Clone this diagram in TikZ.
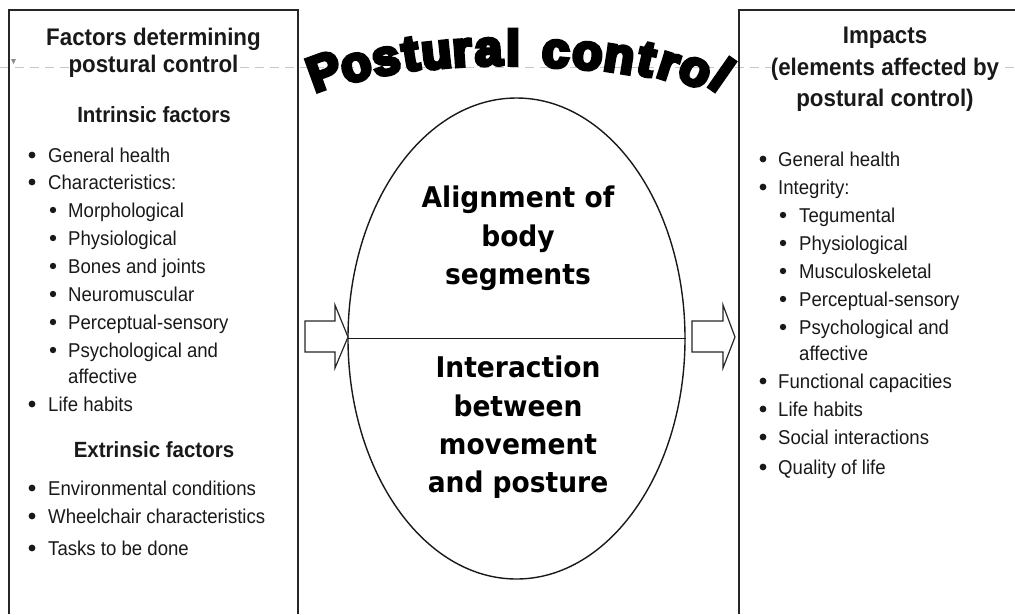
\documentclass[tikz,border=0pt]{standalone}
\usepackage{fontspec}
\setmainfont{Liberation Sans}[FakeStretch=0.93]
\newfontfamily\ellfont{DejaVu Sans}[FakeStretch=0.93]
\newfontfamily\titlefont{Liberation Sans}[UprightFont={* Bold}, FakeBold=8]
\usetikzlibrary{shapes.geometric}
\tikzset{
  frame/.style={draw=black!85, line width=1.4pt},
  head/.style={font=\bfseries\fontsize{24}{27}\selectfont, inner sep=0, anchor=base, text=black!90, fill=white},
  sub/.style={font=\bfseries\fontsize{22}{24}\selectfont, inner sep=0, anchor=base, text=black!90},
  item/.style={font=\fontsize{20}{24}\selectfont, inner sep=0, anchor=base west, text=black!90},
  ell text/.style={font=\ellfont\bfseries\fontsize{28.5}{38}\selectfont, inner sep=0, anchor=base},
  tl/.style={font=\titlefont\fontsize{49}{49}\selectfont, inner sep=0, anchor=base},
  blockarrow/.style={draw=black!85, line width=1.2pt, fill=white, line join=miter},
}
\begin{document}
\begin{tikzpicture}[x=1pt,y=-1pt]
\useasboundingbox (0,0) rectangle (1015,614);
% faint page-header guide line
\draw[black!22, line width=0.8pt, dash pattern=on 9pt off 6pt] (0,67) -- (1015,67);
\fill[black!45] (11,59) -- (16,59) -- (13.5,64) -- cycle;

% boxes (open at the bottom / right edge of the picture)
\draw[frame] (9,614) -- (9,10) -- (298,10) -- (298,614);
\draw[frame] (739,614) -- (739,10) -- (1015,10);

% ---------- left box ----------
\node[head] (lh1) at (153.5,45) {Factors determining};
\node[head] (lh2) at (153.5,72) {postural control};
\node[sub]  (lint) at (154,122) {Intrinsic factors};
\node[sub]  (lext) at (154,457) {Extrinsic factors};
\foreach \t/\y/\lv [count=\i] in {
  General health/162/1, Characteristics:/189/1, Morphological/217/2,
  Physiological/245/2, Bones and joints/273/2, Neuromuscular/301/2,
  Perceptual-sensory/329/2, Psychological and/357/2, affective/383/0,
  Life habits/411/1, Environmental conditions/495/1,
  Wheelchair characteristics/523/1, Tasks to be done/555/1}{
  \ifnum\lv=1
    \node[item] (L\i) at (48,\y) {\t};
    \fill[black!90] (32,\y-7) circle (3.4pt);
  \else
    \node[item] (L\i) at (68,\y) {\t};
    \ifnum\lv=2 \fill[black!90] (53,\y-7) circle (3.2pt); \fi
  \fi
}

% ---------- right box ----------
\node[head] (rh1) at (885,43) {Impacts};
\node[head] (rh2) at (885,75) {(elements affected by};
\node[head] (rh3) at (885,106) {postural control)};
\foreach \t/\y/\lv [count=\i] in {
  General health/166/1, Integrity:/194/1, Tegumental/222/2,
  Physiological/250/2, Musculoskeletal/278/2, Perceptual-sensory/306/2,
  Psychological and/334/2, affective/360/0, Functional capacities/388/1,
  Life habits/416/1, Social interactions/444/1, Quality of life/474/1}{
  \ifnum\lv=1
    \node[item] (R\i) at (778,\y) {\t};
    \fill[black!90] (763,\y-7) circle (3.4pt);
  \else
    \node[item] (R\i) at (799,\y) {\t};
    \ifnum\lv=2 \fill[black!90] (783,\y-7) circle (3.2pt); \fi
  \fi
}

% ---------- central ellipse ----------
\node[ellipse, draw=black!90, line width=1.4pt, minimum width=337pt, minimum height=481pt, inner sep=0] (ell) at (516.5,338.5) {};
\draw[black!90, line width=1.4pt] (ell.west) -- (ell.east);
\node[ell text] (a1) at (518,207) {Alignment of};
\node[ell text] (a2) at (518,246) {body};
\node[ell text] (a3) at (518,284) {segments};
\node[ell text] (b1) at (518,377) {Interaction};
\node[ell text] (b2) at (518,416) {between};
\node[ell text] (b3) at (518,454) {movement};
\node[ell text] (b4) at (518,492) {and posture};

% ---------- block arrows ----------
\draw[blockarrow] (305,321) -- (335,321) -- (335,305) -- (348,337) -- (335,368) -- (335,352) -- (305,352) -- cycle;
\draw[blockarrow] (692,321) -- (723,321) -- (723,305) -- (735,337) -- (723,368) -- (723,352) -- (692,352) -- cycle;

% ---------- arched title ----------
\foreach \c/\x/\y/\r [count=\i] in {
  P/330/87/20, o/360/80/16, s/389/74/12, t/413/70/9, u/438/68/6,
  r/463/66/4, a/489/65/2, l/513/65/0,
  c/555/67/-3, o/586/69/-6, n/617/72/-9, t/643/75/-13,
  r/664/79/-18, o/689/84/-25, l/712/89/-35}{
  \node[tl, rotate=\r] (T\i) at (\x,\y) {\c};
}
\end{tikzpicture}
\end{document}
